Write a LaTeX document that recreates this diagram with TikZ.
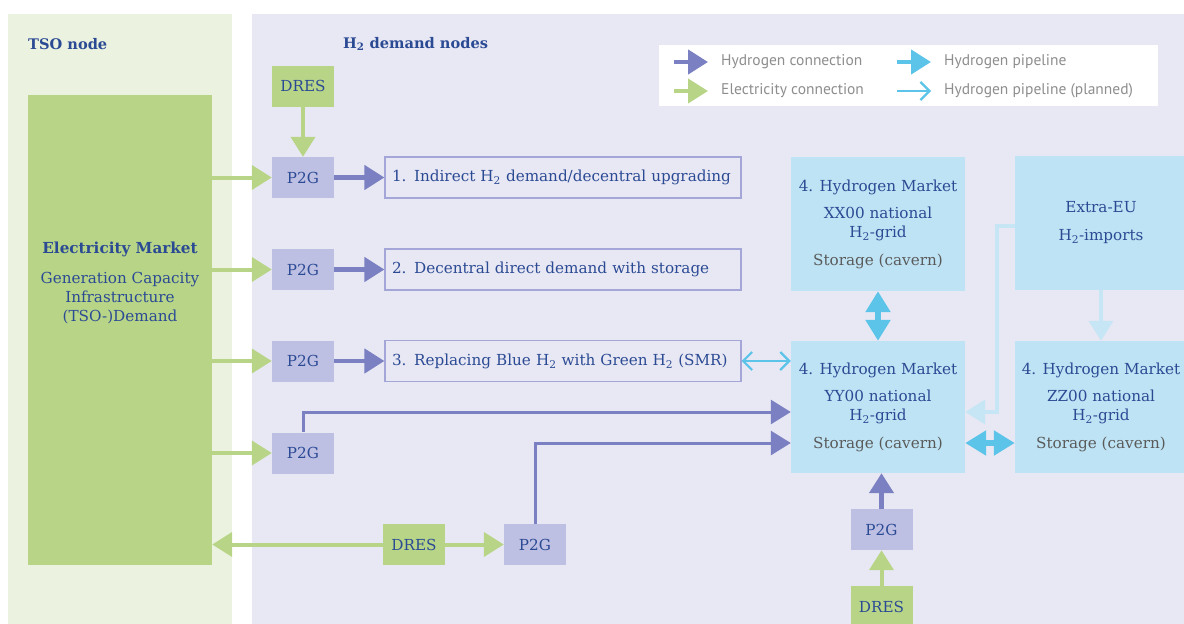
\documentclass[tikz,border=0pt]{standalone}
\usepackage{fontspec}
\setmainfont{DejaVu Serif}
\newfontfamily\legfont{PT Sans}
\usetikzlibrary{arrows.meta,calc}
\definecolor{tsobg}{HTML}{EBF2E0}
\definecolor{hbg}{HTML}{E8E8F4}
\definecolor{elg}{HTML}{B8D587}
\definecolor{ptg}{HTML}{BDBFE3}
\definecolor{hyc}{HTML}{7A80C1}
\definecolor{mkt}{HTML}{BEE3F4}
\definecolor{pipe}{HTML}{5BC4E8}
\definecolor{imp}{HTML}{C6E6F6}
\definecolor{txb}{HTML}{2B4A94}
\definecolor{txg}{HTML}{5A5A5A}
\definecolor{leg}{HTML}{8E8E8E}
\definecolor{dbord}{HTML}{A3A6D6}
\tikzset{
  x=1pt, y=-1pt,
  base/.style={font=\fontsize{15.2}{19}\selectfont, text=txb, inner sep=0pt},
  smallbox/.style={base, minimum width=62pt, minimum height=41pt},
  p2gbox/.style={smallbox, fill=ptg},
  dresbox/.style={smallbox, fill=elg},
  demandbox/.style={base, fill=hbg, draw=dbord, line width=1.2pt, minimum height=41pt,
    text width=342pt, align=left, inner xsep=7pt},
  mktbox/.style={base, fill=mkt, minimum width=174pt, minimum height=134pt, align=center},
  head/.style={font=\bfseries\fontsize{14.6}{18}\selectfont, text=txb, anchor=west, inner sep=0pt},
  legtext/.style={font=\legfont\fontsize{15.5}{18}\selectfont, text=leg, anchor=west, inner sep=0pt},
  elarrow/.style={elg, line width=4pt, -{Triangle[length=20pt,width=24pt]}},
  hyarrow/.style={hyc, line width=4.5pt, -{Triangle[length=20pt,width=24pt]}},
  hyline/.style={hyc, line width=3pt, -{Triangle[length=20pt,width=24pt]}},
  pipearrow/.style={pipe, line width=6pt, {Triangle[length=21pt,width=24pt]}-{Triangle[length=21pt,width=24pt]}},
  imparrow/.style={imp, line width=3.5pt, -{Triangle[length=20pt,width=24pt]}},
  planned/.style={pipe, line width=2.2pt, {Straight Barb[length=9pt,width=18pt]}-{Straight Barb[length=9pt,width=18pt]}},
}
\begin{document}
\begin{tikzpicture}
\useasboundingbox (0,0) rectangle (1184,624);
% panels
\fill[tsobg] (8,14) rectangle (232,630);
\fill[hbg] (252,14) rectangle (1190,630);
\node[head] (tsoh) at (28,44) {TSO node};
\node[head] (h2h) at (343,44) {H\textsubscript{2} demand nodes};
% legend
\fill[white] (659,45) rectangle (1158,106);
\draw[hyarrow] (674,62) -- (708,62);
\draw[elarrow] (674,91) -- (708,91);
\draw[pipe, line width=4.5pt, -{Triangle[length=20pt,width=24pt]}] (897,62) -- (931,62);
\draw[pipe, line width=2.2pt, -{Straight Barb[length=9pt,width=18pt]}] (897,91) -- (931,91);
\node[legtext] (l1) at (721,62) {Hydrogen connection};
\node[legtext] (l2) at (721,91) {Electricity connection};
\node[legtext] (l3) at (944,62) {Hydrogen pipeline};
\node[legtext] (l4) at (944,91) {Hydrogen pipeline (planned)};
% electricity market
\node[fill=elg, minimum width=184pt, minimum height=470pt, inner sep=0pt] (elmk) at (120,330) {};
\node[base, align=center] (elmktxt) at (120,283) {\textbf{Electricity Market}\\[11pt]Generation Capacity\\Infrastructure\\(TSO-)Demand};
% small boxes
\node[dresbox] (dres1) at (303,86) {DRES};
\node[p2gbox] (p1) at (303,177.5) {P2G};
\node[p2gbox] (p2) at (303,269.5) {P2G};
\node[p2gbox] (p3) at (303,361) {P2G};
\node[p2gbox] (p4) at (303,453) {P2G};
\node[dresbox] (dres2) at (414,544.5) {DRES};
\node[p2gbox] (p5) at (535,544.5) {P2G};
\node[p2gbox] (p6) at (881.5,529.5) {P2G};
\node[dresbox] (dres3) at (881.5,606.5) {DRES};
% demand boxes
\node[demandbox] (d1) at (563,177.5) {1. Indirect H\textsubscript{2} demand/decentral upgrading};
\node[demandbox] (d2) at (563,269.5) {2. Decentral direct demand with storage};
\node[demandbox] (d3) at (563,361) {3. Replacing Blue H\textsubscript{2} with Green H\textsubscript{2} (SMR)};
% markets
\node[mktbox] (xx) at (878,224) {4. Hydrogen Market\\[8pt]XX00 national\\H\textsubscript{2}-grid\\[9pt]{\color{txg}Storage (cavern)}};
\node[mktbox, minimum width=172pt] (ex) at (1101,223) {Extra-EU\\[9pt]H\textsubscript{2}-imports};
\node[mktbox, minimum height=132pt] (yy) at (878,407) {4. Hydrogen Market\\[8pt]YY00 national\\H\textsubscript{2}-grid\\[9pt]{\color{txg}Storage (cavern)}};
\node[mktbox, minimum width=172pt, minimum height=132pt] (zz) at (1101,407) {4. Hydrogen Market\\[8pt]ZZ00 national\\H\textsubscript{2}-grid\\[9pt]{\color{txg}Storage (cavern)}};
% electricity connectors
\draw[elarrow] (dres1) -- (p1);
\draw[elarrow] (elmk.east |- p1) -- (p1);
\draw[elarrow] (elmk.east |- p2) -- (p2);
\draw[elarrow] (elmk.east |- p3) -- (p3);
\draw[elarrow] (elmk.east |- p4) -- (p4);
\draw[elarrow] (dres2) -- (p5);
\draw[elarrow] (dres2) -- (elmk.east |- dres2);
\draw[elarrow] (dres3) -- (p6);
% hydrogen connectors
\draw[hyarrow] (p1) -- (d1);
\draw[hyarrow] (p2) -- (d2);
\draw[hyarrow] (p3) -- (d3);
\coordinate (yyin1) at ($(yy.west)+(0,5)$);
\coordinate (yyin2) at ($(yy.west)+(0,36)$);
\draw[hyline] (p4.north) |- (yyin1);
\draw[hyline] (p5.north) |- (yyin2);
\draw[hyarrow] (p6.north) -- (p6.north |- yy.south);
% pipelines
\draw[pipearrow] (xx.south) -- (xx.south |- yy.north);
\coordinate (yyout) at ($(yy.east)+(0,36)$);
\draw[pipearrow] (yyout) -- (zz.west |- yyout);
\draw[planned] (d3.east) -- (yy.west |- d3.east);
\coordinate (exout) at ($(ex.west)+(0,3)$);
\coordinate (bend) at (997,412);
\draw[imparrow] (exout) -| (bend) -- (yy.east |- bend);
\draw[imparrow, line width=4pt] (ex.south) -- (zz.north);
\end{tikzpicture}
\end{document}
